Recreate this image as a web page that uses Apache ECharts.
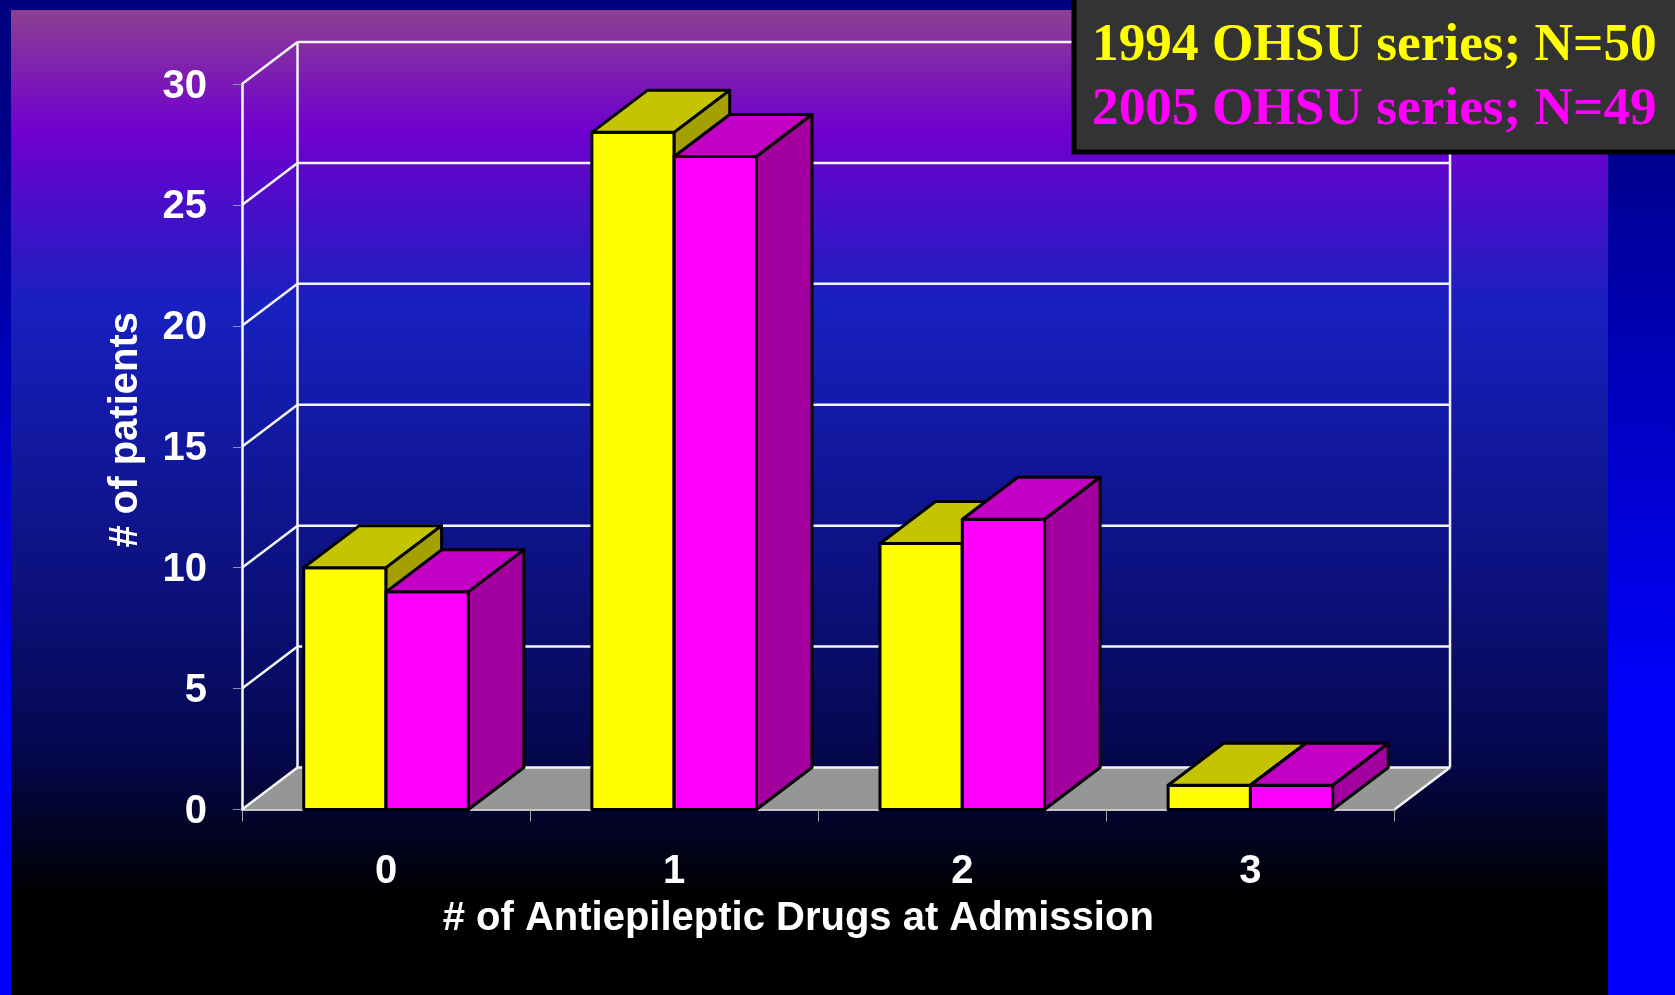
<!DOCTYPE html>
<html>
<head>
<meta charset="utf-8">
<style>
    html,body {margin:0;padding:0;background:#000;}
    #main {width:1675px;height:995px;}
</style>
<script src="https://cdn.jsdelivr.net/npm/echarts@6/dist/echarts.min.js"></script>
</head>
<body>
<div id="main"></div>
<script>
    var categories = ['0', '1', '2', '3'];
    var values1994 = [10, 28, 11, 1];
    var values2005 = [9, 27, 12, 1];
    var wallTicks = [0, 5, 10, 15, 20, 25, 30];
    var name1994 = '1994 OHSU series; N=50';
    var name2005 = '2005 OHSU series; N=49';

    // fake 3D offset of the whole box, in px
    var depthX = 55.5;
    var depthY = -42;
    var gridTop = 84, gridLeft = 242, gridWidth = 1152.5, gridHeight = 725.5;
    var sans = '"Liberation Sans", Arial, sans-serif';
    var serif = '"Liberation Serif", "Times New Roman", serif';

    var chart = echarts.init(document.getElementById('main'));

    function wallItem(params, api) {
        var c = params.coordSys;
        var v = api.value(1);
        var y = api.coord([0, v])[1];
        var left = c.x, right = c.x + c.width;
        var stroke = {stroke: '#f4f4f4', lineWidth: 2.5};
        var kids = [];
        if (v === 0) {
            kids.push({type: 'polygon', shape: {points: [
                [left, y], [right, y], [right + depthX, y + depthY], [left + depthX, y + depthY]
            ]}, style: {fill: '#969696', stroke: 'none'}});
            kids.push({type: 'line', shape: {x1: left + depthX, y1: c.y + depthY, x2: left + depthX, y2: y + depthY}, style: stroke});
            kids.push({type: 'line', shape: {x1: right + depthX, y1: c.y + depthY, x2: right + depthX, y2: y + depthY}, style: stroke});
            kids.push({type: 'line', shape: {x1: right, y1: y, x2: right + depthX, y2: y + depthY}, style: stroke});
        }
        kids.push({type: 'line', shape: {x1: left + depthX, y1: y + depthY, x2: right + depthX, y2: y + depthY}, style: stroke});
        kids.push({type: 'line', shape: {x1: left, y1: y, x2: left + depthX, y2: y + depthY}, style: stroke});
        return {type: 'group', silent: true, children: kids};
    }

    function barItem(seriesIndex, front, top, side) {
        return function (params, api) {
            var idx = api.value(0);
            var base = api.coord([idx, 0]);
            var head = api.coord([idx, api.value(1)]);
            var w = api.size([1, 0])[0] * 0.2857;
            var x0 = base[0] + (seriesIndex === 0 ? -w : 0);
            var x1 = x0 + w;
            var y0 = base[1], y1 = head[1];
            var line = {stroke: '#000', lineWidth: 3, lineJoin: 'round'};
            return {type: 'group', children: [
                {type: 'polygon', shape: {points: [[x0, y1], [x1, y1], [x1, y0], [x0, y0]]},
                    style: Object.assign({fill: front}, line)},
                {type: 'polygon', shape: {points: [[x0, y1], [x0 + depthX, y1 + depthY], [x1 + depthX, y1 + depthY], [x1, y1]]},
                    style: Object.assign({fill: top}, line)},
                {type: 'polygon', shape: {points: [[x1, y1], [x1 + depthX, y1 + depthY], [x1 + depthX, y0 + depthY], [x1, y0]]},
                    style: Object.assign({fill: side}, line)}
            ]};
        };
    }

    var option = {
        animation: false,
        backgroundColor: {
            type: 'linear', x: 0, y: 0, x2: 0, y2: 1,
            colorStops: [
                {offset: 0, color: '#000080'},
                {offset: 0.12, color: '#000088'},
                {offset: 0.72, color: '#0000ff'},
                {offset: 1, color: '#0000ff'}
            ]
        },
        graphic: [{
            type: 'rect', z: -10, silent: true,
            shape: {x: 11, y: 10, width: 1597, height: 985},
            style: {fill: {
                type: 'linear', x: 0, y: 0, x2: 0, y2: 1,
                colorStops: [
                    {offset: 0, color: '#8c4090'},
                    {offset: 0.122, color: '#7000d0'},
                    {offset: 0.3, color: '#1820c0'},
                    {offset: 0.6, color: '#0b1078'},
                    {offset: 0.75, color: '#050850'},
                    {offset: 0.9, color: '#000000'},
                    {offset: 1, color: '#000000'}
                ]
            }}
        }],
        color: ['#ffff00', '#ff00ff'],
        grid: {left: gridLeft, top: gridTop, width: gridWidth, height: gridHeight},
        legend: {
            data: [name1994, name2005],
            orient: 'vertical',
            left: 1074,
            top: -3,
            icon: 'none',
            itemWidth: 0,
            itemHeight: 0,
            itemGap: 8,
            padding: [21, 30, 14, 13],
            backgroundColor: '#333333',
            borderColor: '#000',
            borderWidth: 5,
            selectedMode: false,
            textStyle: {color: 'inherit', fontFamily: serif, fontWeight: 'bold', fontSize: 53.3, lineHeight: 56}
        },
        xAxis: {
            type: 'category',
            data: categories,
            name: '# of Antiepileptic Drugs at Admission',
            nameLocation: 'middle',
            nameGap: 89,
            nameTextStyle: {color: '#fff', fontFamily: sans, fontWeight: 'bold', fontSize: 40, padding: [0, 40, 0, 0]},
            axisLine: {lineStyle: {color: '#fff', width: 2.5}},
            axisTick: {show: true, length: 12, lineStyle: {color: '#aaa', width: 1}},
            axisLabel: {color: '#fff', fontFamily: sans, fontWeight: 'bold', fontSize: 40, margin: 42}
        },
        yAxis: {
            type: 'value',
            min: 0,
            max: 30,
            interval: 5,
            name: '# of patients',
            nameLocation: 'middle',
            nameGap: 96,
            nameTextStyle: {color: '#fff', fontFamily: sans, fontWeight: 'bold', fontSize: 40, padding: [0, 0, 0, 34]},
            splitLine: {show: false},
            axisLine: {show: true, lineStyle: {color: '#fff', width: 2.5}},
            axisTick: {show: true, length: 9, lineStyle: {color: '#8890b0', width: 1}},
            // nudges the numbers just under their ticks, as in the slide
            axisLabel: {color: '#fff', fontFamily: sans, fontWeight: 'bold', fontSize: 40, margin: 35, verticalAlign: 'top', lineHeight: 5}
        },
        series: [
            {
                name: 'wall', type: 'custom', clip: false, z: 1,
                renderItem: wallItem,
                encode: {x: 0, y: 1},
                data: wallTicks.map(function (v) { return [0, v]; })
            },
            {
                name: name1994, type: 'custom', clip: false, z: 2,
                renderItem: barItem(0, '#ffff00', '#c4c400', '#a3a000'),
                encode: {x: 0, y: 1},
                itemStyle: {color: '#ffff00'},
                data: values1994.map(function (v, i) { return [i, v]; })
            },
            {
                name: name2005, type: 'custom', clip: false, z: 2,
                renderItem: barItem(1, '#ff00ff', '#c400c4', '#a400a0'),
                encode: {x: 0, y: 1},
                itemStyle: {color: '#ff00ff'},
                data: values2005.map(function (v, i) { return [i, v]; })
            }
        ]
    };
    chart.setOption(option);
</script>
</body>
</html>
